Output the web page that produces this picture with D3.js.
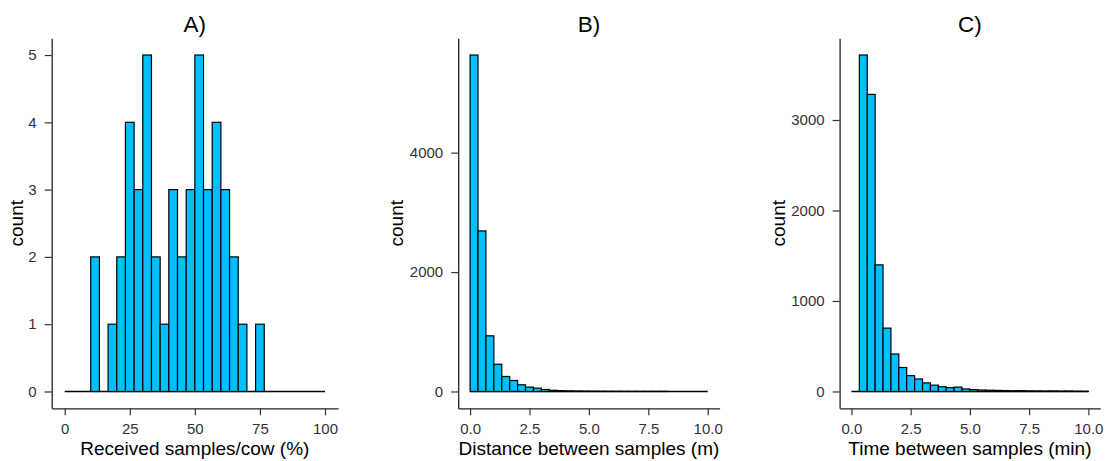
<html>
<head>
  <meta charset="utf-8" />
  <script src="https://d3js.org/d3.v7.min.js"></script>
</head>
<body style="margin: 0; background: #fff">
<script>

// histogram counts, 30 bins per panel
const cowCounts  = [0,0,0,2,0,1,2,4,3,5,2,1,3,2,3,5,3,4,3,2,1,0,1,0,0,0,0,0,0,0]
const distCounts = [5635,2689,932,456,251,184,112,73,56,33,20,14,10,8,6,5,4,3,3,2,2,2,1,1,1,0,0,0,0,0]
const timeCounts = [0,3718,3283,1399,700,414,265,175,138,95,70,52,42,48,28,20,16,14,12,10,8,9,7,6,5,6,4,5,3,2]

const binRanges  = [[0, 100], [0, 10], [0, 10]]
const titles     = ['A)', 'B)', 'C)']
const xTitles    = ['Received samples/cow (%)', 'Distance between samples (m)', 'Time between samples (min)']
const xTicks     = [[0, 25, 50, 75, 100], [0, 2.5, 5, 7.5, 10], [0, 2.5, 5, 7.5, 10]]
const yTicks     = [[0, 1, 2, 3, 4, 5], [0, 2000, 4000], [0, 1000, 2000, 3000]]
const xFormats   = [d3.format('d'), d3.format('.1f'), d3.format('.1f')]

// panel placement
const panels = [
  { left: 51.7,  right: 338,    counts: cowCounts },
  { left: 458.2, right: 719.6,  counts: distCounts },
  { left: 839.6, right: 1100.2, counts: timeCounts }
]
const plotTop = 38.2, plotBottom = 408.3
const font = "'Liberation Sans', Arial, sans-serif"

const svg = d3.select('body').append('svg')
  .attr('width', 1105)
  .attr('height', 461)

panels.forEach(function(p, i) {
  let counts = p.counts
  let [lo, hi] = binRanges[i]
  let bw = (hi - lo) / counts.length
  let maxC = d3.max(counts)

  let x = d3.scaleLinear()
    .domain([lo - 0.05 * (hi - lo), hi + 0.05 * (hi - lo)])
    .range([p.left, p.right])
  let y = d3.scaleLinear()
    .domain([-0.05 * maxC, maxC * 1.05])
    .range([plotBottom, plotTop])

  let g = svg.append('g')

  // zero bins show as a flat line along the baseline
  g.append('line')
    .attr('x1', x(lo)).attr('x2', x(hi))
    .attr('y1', y(0)).attr('y2', y(0))
    .attr('stroke', '#000')
    .attr('stroke-width', 1.3)

  g.selectAll('rect')
    .data(counts.map((c, k) => ({ c: c, x0: lo + k * bw, x1: lo + (k + 1) * bw })).filter(d => d.c > 0))
    .enter().append('rect')
    .attr('x', d => x(d.x0))
    .attr('width', d => x(d.x1) - x(d.x0))
    .attr('y', d => y(d.c))
    .attr('height', d => y(0) - y(d.c))
    .attr('fill', '#00BFFF')
    .attr('stroke', '#000')
    .attr('stroke-width', 1.2)

  let xAxis = g.append('g')
    .attr('transform', 'translate(0,' + plotBottom + ')')
    .call(d3.axisBottom(x).tickValues(xTicks[i]).tickFormat(xFormats[i]).tickSize(7).tickSizeOuter(0).tickPadding(8))
  let yAxis = g.append('g')
    .attr('transform', 'translate(' + p.left + ',0)')
    .call(d3.axisLeft(y).tickValues(yTicks[i]).tickFormat(d3.format('d')).tickSize(7).tickSizeOuter(0).tickPadding(8))

  ;[xAxis, yAxis].forEach(a => {
    a.select('.domain').attr('stroke', '#222').attr('stroke-width', 1.3)
    a.selectAll('.tick line').attr('stroke', '#333').attr('stroke-width', 1.2)
    a.selectAll('.tick text')
      .attr('fill', '#333')
      .style('font-family', font)
      .style('font-size', '15px')
  })

  let cx = (p.left + p.right) / 2

  g.append('text')
    .attr('x', cx).attr('y', 31.5)
    .attr('text-anchor', 'middle')
    .style('font-family', font).style('font-size', '22.5px')
    .text(titles[i])

  g.append('text')
    .attr('x', cx).attr('y', 455)
    .attr('text-anchor', 'middle')
    .style('font-family', font).style('font-size', '19px')
    .text(xTitles[i])

  let labelX = i == 0 ? p.left - 28.7 : p.left - 55
  g.append('text')
    .attr('transform', 'translate(' + labelX + ',' + (plotTop + plotBottom) / 2 + ') rotate(-90)')
    .attr('text-anchor', 'middle')
    .style('font-family', font).style('font-size', '19px')
    .text('count')
})

</script>
</body>
</html>
